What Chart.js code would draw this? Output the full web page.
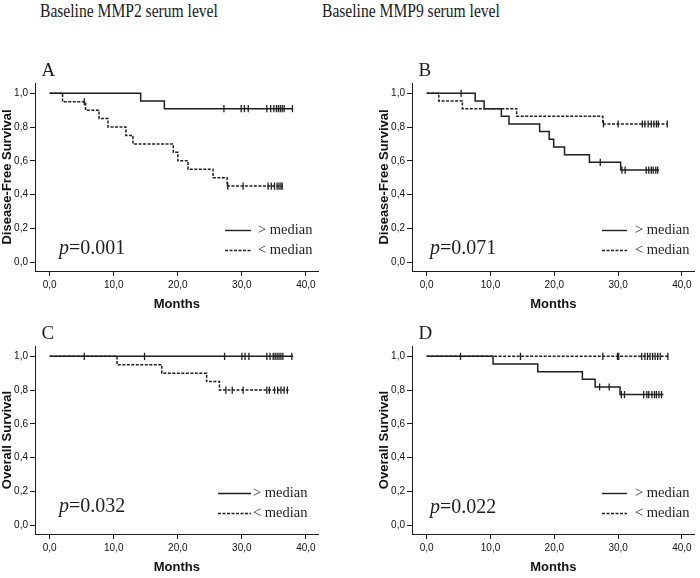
<!DOCTYPE html>
<html>
<head>
<meta charset="utf-8">
<script src="https://cdn.jsdelivr.net/npm/chart.js@4.4.0/dist/chart.umd.min.js"></script>
<style>
  body { margin: 0; background: #fff; width: 700px; height: 578px; position: relative; overflow: hidden; }
  canvas { position: absolute; }
  .hd { position: absolute; top: 0; font: 19px "Liberation Serif", serif; color: #1a1a1a;
        transform: scaleX(0.82); transform-origin: left top; white-space: nowrap; }
</style>
</head>
<body>
<div class="hd" style="left:40px">Baseline MMP2 serum level</div>
<div class="hd" style="left:322px">Baseline MMP9 serum level</div>
<canvas id="chartA" width="324" height="267" style="left:0;top:45px"></canvas>
<canvas id="chartB" width="323" height="267" style="left:377px;top:45px"></canvas>
<canvas id="chartC" width="324" height="267" style="left:0;top:308px"></canvas>
<canvas id="chartD" width="323" height="267" style="left:377px;top:308px"></canvas>
<script>
const xTicks = [0, 10, 20, 30, 40];
const yTicks = [0, 0.2, 0.4, 0.6, 0.8, 1.0];

// A: MMP2, disease-free survival
const aHighT = [0, 14.2, 17.9, 38.0];
const aHighS = [1, 0.955, 0.909, 0.909];
const aHighCens = [27.2, 29.9, 30.4, 31.0, 33.9, 34.5, 35.0, 35.4, 35.7, 36.0, 36.3, 36.6, 37.9];
const aLowT = [0, 2.0, 5.6, 7.7, 9.1, 11.9, 13.0, 19.3, 20.0, 21.6, 25.5, 27.7, 36.4];
const aLowS = [1, 0.95, 0.90, 0.85, 0.80, 0.75, 0.70, 0.65, 0.60, 0.55, 0.50, 0.45, 0.45];
const aLowCens = [5.4, 27.8, 30.2, 34.1, 34.6, 35.1, 35.5, 35.8, 36.1, 36.3];

// B: MMP9, disease-free survival
const bHighT = [0, 7.6, 9.0, 11.7, 12.9, 17.7, 19.2, 19.9, 21.6, 25.5, 30.4, 36.4];
const bHighS = [1, 0.955, 0.909, 0.864, 0.818, 0.773, 0.727, 0.682, 0.636, 0.591, 0.545, 0.545];
const bHighCens = [5.4, 27.2, 30.6, 31.1, 34.4, 34.8, 35.2, 35.5, 35.9, 36.2];
const bLowT = [0, 1.9, 5.6, 14.1, 27.6, 37.8];
const bLowS = [1, 0.955, 0.909, 0.864, 0.818, 0.818];
const bLowCens = [27.7, 30.0, 33.8, 34.2, 34.7, 35.2, 35.6, 36.0, 36.3, 37.7];

// C: MMP2, overall survival
const cHighT = [0, 38.0];
const cHighS = [1, 1];
const cHighCens = [5.4, 14.8, 27.3, 30.0, 30.5, 31.1, 33.9, 34.4, 34.9, 35.2, 35.5, 35.8, 36.1, 36.4, 37.8];
const cLowT = [0, 10.5, 17.5, 24.5, 26.5, 37.3];
const cLowS = [1, 0.95, 0.90, 0.85, 0.80, 0.80];
const cLowCens = [27.5, 28.5, 30.2, 33.9, 34.3, 35.1, 35.6, 36.1, 36.6, 37.1];

// D: MMP9, overall survival
const dHighT = [0, 10.4, 17.4, 24.4, 26.4, 30.3, 37.1];
const dHighS = [1, 0.955, 0.909, 0.864, 0.818, 0.773, 0.773];
const dHighCens = [27.1, 28.6, 30.5, 31.0, 34.0, 34.5, 34.8, 35.3, 35.7, 36.0, 36.4, 36.8];
const dLowT = [0, 37.9];
const dLowS = [1, 1];
const dLowCens = [5.3, 14.7, 27.6, 29.9, 30.1, 33.7, 34.2, 34.6, 35.0, 35.4, 35.8, 36.2, 36.6, 37.8];

const pValues = ['0.001', '0.071', '0.032', '0.022'];
const groups = ['> median', '< median'];

const ink = '#1e1e1e';
const serif = '"Liberation Serif", "Times New Roman", serif';
const sans = '"Liberation Sans", Arial, sans-serif';

function survAt(T, S, t) {
  let s = S[0];
  for (let i = 0; i < T.length; i++) if (T[i] <= t) s = S[i];
  return s;
}

function curve(T, S, dash) {
  return {data: T.map((t, i) => ({x: t, y: S[i]})), stepped: 'before', borderColor: ink,
          borderWidth: 1.5, borderDash: dash, pointRadius: 0, fill: false};
}

function marks(T, S, C) {
  return {data: C.map(t => ({x: t, y: survAt(T, S, t)})), showLine: false, pointStyle: 'line',
          rotation: 90, pointRadius: 3.6, pointBorderWidth: 1.3, pointBorderColor: ink, borderColor: ink};
}

const kmNotes = {
  id: 'kmNotes',
  afterDraw(chart, args, o) {
    const ctx = chart.ctx, a = chart.chartArea;
    ctx.save();
    ctx.fillStyle = ink;
    ctx.strokeStyle = ink;
    ctx.textBaseline = 'alphabetic';
    ctx.font = '19px ' + serif;
    ctx.fillText(o.letter, 41.5, 31);

    let x = a.left + o.pX;
    const y = a.bottom + o.pY;
    ctx.font = 'italic 20px ' + serif;
    ctx.fillText('p', x, y);
    x += ctx.measureText('p').width;
    ctx.font = '20px ' + serif;
    ctx.fillText('=' + o.pval, x, y);

    ctx.font = '14.5px ' + serif;
    ctx.textBaseline = 'middle';
    ctx.lineWidth = 1.4;
    [[], [3, 1.5]].forEach((dash, i) => {
      const ly = a.bottom + (i === 0 ? -41 : -21) + 0.5;
      ctx.setLineDash(dash);
      ctx.beginPath();
      ctx.moveTo(a.left + o.lx0, ly);
      ctx.lineTo(a.left + o.lx1, ly);
      ctx.stroke();
      ctx.fillText(groups[i], a.left + o.tx, ly);
    });
    ctx.restore();
  }
};

function panel(id, yTitle, high, low, notes) {
  const canvas = document.getElementById(id);
  new Chart(canvas, {
    type: 'line',
    data: {datasets: [
      curve(high[0], high[1], []),
      curve(low[0], low[1], [3, 1.5]),
      marks(high[0], high[1], high[2]),
      marks(low[0], low[1], low[2])
    ]},
    options: {
      responsive: false, animation: false, devicePixelRatio: 1,
      layout: {padding: {left: 0, top: 38, right: canvas.width - 322, bottom: 0}},
      plugins: {legend: {display: false}, tooltip: {enabled: false}, kmNotes: notes},
      scales: {
        x: {type: 'linear', min: -2.3, max: 42,
            afterBuildTicks: s => { s.ticks = xTicks.map(v => ({value: v})); },
            afterFit: s => { s.height = 41; },
            ticks: {padding: 3, color: '#111', font: {family: sans, size: 10},
                    callback: v => v.toFixed(1).replace('.', ',')},
            grid: {drawOnChartArea: false, tickLength: 5, color: ink},
            border: {color: ink},
            title: {display: true, text: 'Months', color: '#111', padding: 0,
                    font: {family: sans, size: 13, weight: 'bold'}}},
        y: {min: -0.053, max: 1.061,
            afterBuildTicks: s => { s.ticks = yTicks.map(v => ({value: v})); },
            afterFit: s => { s.width = 35; },
            ticks: {padding: 2, color: '#111', font: {family: sans, size: 10},
                    callback: v => v.toFixed(1).replace('.', ',')},
            grid: {drawOnChartArea: false, tickLength: 5, color: ink},
            border: {color: ink},
            title: {display: true, text: yTitle, color: '#111', padding: 0,
                    font: {family: sans, size: 13, weight: 'bold'}}}
      }
    },
    plugins: [kmNotes]
  });
}

panel('chartA', 'Disease-Free Survival', [aHighT, aHighS, aHighCens], [aLowT, aLowS, aLowCens],
      {letter: 'A', pval: pValues[0], pX: 24, pY: -17.5, lx0: 190, lx1: 216, tx: 223});
panel('chartB', 'Disease-Free Survival', [bHighT, bHighS, bHighCens], [bLowT, bLowS, bLowCens],
      {letter: 'B', pval: pValues[1], pX: 18, pY: -17.5, lx0: 190, lx1: 215, tx: 223});
panel('chartC', 'Overall Survival', [cHighT, cHighS, cHighCens], [cLowT, cLowS, cLowCens],
      {letter: 'C', pval: pValues[2], pX: 24, pY: -22.5, lx0: 183, lx1: 216, tx: 218});
panel('chartD', 'Overall Survival', [dHighT, dHighS, dHighCens], [dLowT, dLowS, dLowCens],
      {letter: 'D', pval: pValues[3], pX: 18, pY: -21.5, lx0: 190, lx1: 215, tx: 223});
</script>
</body>
</html>
